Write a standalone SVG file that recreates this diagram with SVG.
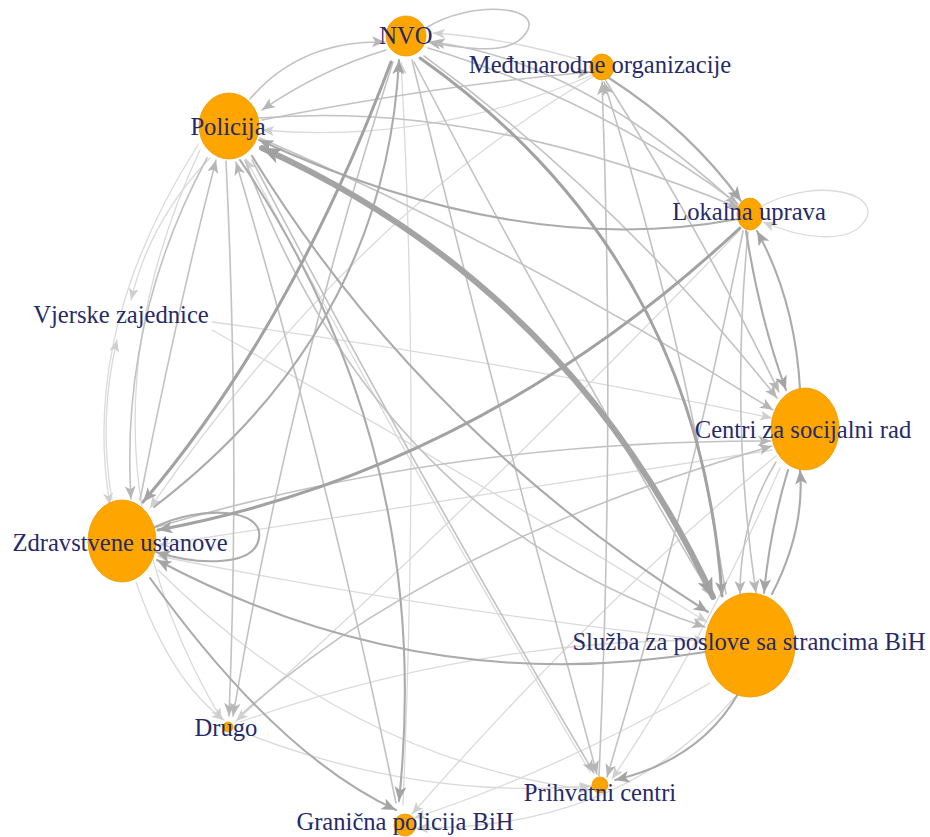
<svg xmlns="http://www.w3.org/2000/svg" width="930" height="837" viewBox="0 0 930 837">
<style>
.e{fill:none;stroke-linecap:round}
.l1{stroke:#dadada;stroke-width:1.3}
.l2{stroke:#c2c2c2;stroke-width:1.6}
.l3{stroke:#ababab;stroke-width:2.1}
.l4{stroke:#a2a2a2;stroke-width:3}
.l5{stroke:#a4a4a4;stroke-width:6}
.n{fill:#FFA500;stroke:#EE9A00;stroke-width:0.8}
.t{font-family:"Liberation Serif","Times New Roman",serif;font-size:24.6px;fill:#262a6a;text-anchor:middle}
</style>
<defs>
<marker id="m1" viewBox="0 0 12 10" refX="12" refY="5" markerWidth="12" markerHeight="10" markerUnits="userSpaceOnUse" orient="auto-start-reverse"><path d="M0,0 L12,5 L0,10 L3,5 z" fill="#cfcfcf"/></marker>
<marker id="m2" viewBox="0 0 12 10" refX="12" refY="5" markerWidth="13" markerHeight="11" markerUnits="userSpaceOnUse" orient="auto-start-reverse"><path d="M0,0 L12,5 L0,10 L3,5 z" fill="#b6b6b6"/></marker>
<marker id="m3" viewBox="0 0 12 10" refX="12" refY="5" markerWidth="15" markerHeight="12" markerUnits="userSpaceOnUse" orient="auto-start-reverse"><path d="M0,0 L12,5 L0,10 L3,5 z" fill="#a4a4a4"/></marker>
<marker id="m5" viewBox="0 0 12 10" refX="12" refY="5" markerWidth="20" markerHeight="16" markerUnits="userSpaceOnUse" orient="auto-start-reverse"><path d="M0,0 L12,5 L0,10 L3,5 z" fill="#a0a0a0"/></marker>
</defs>
<g id="edges" class="e">
<path class="l1" marker-end="url(#m1)" d="M 200 150 Q 60 450 222 720"/>
<path class="l1" marker-end="url(#m1)" d="M 198 145 Q 80 330 110 505"/>
<path class="l1" marker-end="url(#m1)" d="M 250 735 Q 420 800 591 786"/>
<path class="l1" marker-end="url(#m1)" d="M 158 570 Q 350 760 590 790"/>
<path class="l1" marker-end="url(#m1)" d="M 735 697 Q 620 830 416 828"/>
<path class="l1" marker-end="url(#m1)" d="M 594 76 Q 350 220 150 508"/>
<path class="l1" marker-end="url(#m1)" d="M 740 230 Q 480 500 236 721"/>
<path class="l1" marker-end="url(#m1)" d="M 592 75 Q 430 145 262 130"/>
<path class="l1" marker-end="url(#m1)" d="M 590 63 Q 510 38 433 33"/>
<path class="l1" marker-end="url(#m1)" d="M 762 206 C 820 175, 885 195, 864 222 C 848 245, 800 238, 763 222"/>
<path class="l1" marker-end="url(#m1)" d="M 210 158 Q 150 220 131 300"/>
<path class="l1" marker-end="url(#m1)" d="M 112 500 Q 98 420 117 340"/>
<path class="l1" marker-end="url(#m1)" d="M 780 468 Q 700 650 612 779"/>
<path class="l1" marker-end="url(#m1)" d="M 710 683 Q 560 770 414 818"/>
<path class="l1" marker-end="url(#m1)" d="M 776 456 Q 600 600 412 814"/>
<path class="l1" marker-end="url(#m1)" d="M 136 582 Q 170 680 224 720"/>
<path class="l1" marker-end="url(#m1)" d="M 212 322 Q 500 360 772 418"/>
<path class="l1" marker-end="url(#m1)" d="M 706 640 Q 430 610 158 556"/>
<path class="l1" marker-end="url(#m1)" d="M 772 450 Q 450 500 158 545"/>
<path class="l1" marker-end="url(#m1)" d="M 240 722 Q 470 640 706 640"/>
<path class="l1" marker-end="url(#m1)" d="M 212 330 Q 460 470 707 622"/>
<path class="l1" marker-end="url(#m1)" d="M 403 805 Q 420 400 401 62"/>
<path class="l1" marker-end="url(#m1)" d="M 590 772 Q 400 450 246 159"/>
<path class="l2" marker-end="url(#m2)" d="M 748 232 Q 730 420 756 593"/>
<path class="l2" marker-end="url(#m2)" d="M 743 231 Q 690 500 607 777"/>
<path class="l2" marker-end="url(#m2)" d="M 776 462 Q 740 520 740 594"/>
<path class="l2" marker-end="url(#m2)" d="M 606 81 Q 700 230 779 392"/>
<path class="l2" marker-end="url(#m2)" d="M 726 594 Q 680 320 604 82"/>
<path class="l2" marker-end="url(#m2)" d="M 599 776 Q 615 420 602 82"/>
<path class="l2" marker-end="url(#m2)" d="M 428 48 Q 600 100 738 204"/>
<path class="l2" marker-end="url(#m2)" d="M 424 56 Q 620 200 777 398"/>
<path class="l2" marker-end="url(#m2)" d="M 262 120 Q 440 85 590 72"/>
<path class="l2" marker-end="url(#m2)" d="M 738 206 Q 580 60 432 42"/>
<path class="l2" marker-end="url(#m2)" d="M 259 118 Q 480 100 739 208"/>
<path class="l2" marker-end="url(#m2)" d="M 250 99 Q 300 40 385 42"/>
<path class="l2" marker-end="url(#m2)" d="M 386 50 Q 320 70 262 110"/>
<path class="l2" marker-end="url(#m2)" d="M 426 28 C 470 0, 545 5, 526 33 C 512 55, 470 50, 428 42"/>
<path class="l2" marker-end="url(#m2)" d="M 207 158 Q 120 320 131 499"/>
<path class="l2" marker-end="url(#m2)" d="M 140 500 Q 175 320 216 160"/>
<path class="l2" marker-end="url(#m2)" d="M 226 161 Q 240 450 229 716"/>
<path class="l2" marker-end="url(#m2)" d="M 393 62 Q 290 380 233 716"/>
<path class="l2" marker-end="url(#m2)" d="M 243 713 Q 430 545 772 446"/>
<path class="l2" marker-end="url(#m2)" d="M 252 160 Q 420 480 594 773"/>
<path class="l2" marker-end="url(#m2)" d="M 412 60 Q 500 420 597 774"/>
<path class="l2" marker-end="url(#m2)" d="M 245 160 Q 380 520 705 627"/>
<path class="l2" marker-end="url(#m2)" d="M 157 527 Q 450 440 771 441"/>
<path class="l2" marker-end="url(#m2)" d="M 260 138 Q 520 250 773 410"/>
<path class="l2" marker-end="url(#m2)" d="M 414 62 Q 560 340 712 597"/>
<path class="l2" marker-end="url(#m2)" d="M 396 803 Q 330 480 236 162"/>
<path class="l3" marker-end="url(#m3)" d="M 240 160 Q 436 451 399 801"/>
<path class="l3" marker-end="url(#m3)" d="M 705 652 Q 420 700 157 560"/>
<path class="l3" marker-end="url(#m3)" d="M 746 231 Q 760 320 786 390"/>
<path class="l3" marker-end="url(#m3)" d="M 800 389 Q 795 300 757 231"/>
<path class="l3" marker-end="url(#m3)" d="M 788 470 Q 770 530 764 593"/>
<path class="l3" marker-end="url(#m3)" d="M 772 594 Q 805 530 800 470"/>
<path class="l3" marker-end="url(#m3)" d="M 609 78 Q 690 130 741 201"/>
<path class="l3" marker-end="url(#m3)" d="M 738 219 Q 520 260 259 140"/>
<path class="l3" marker-end="url(#m3)" d="M 155 527 C 200 505, 264 508, 259 538 C 255 566, 200 566, 156 552"/>
<path class="l3" marker-end="url(#m3)" d="M 150 578 Q 276 754 396 810"/>
<path class="l3" marker-end="url(#m3)" d="M 738 694 Q 700 760 615 780"/>
<path class="l3" marker-end="url(#m3)" d="M 252 156 Q 420 430 708 612"/>
<path class="l3" marker-end="url(#m3)" d="M 154 507 Q 385 330 399 60"/>
<path class="l4" marker-end="url(#m3)" d="M 391 62 Q 290 330 143 502"/>
<path class="l4" marker-end="url(#m3)" d="M 740 228 Q 480 470 158 530"/>
<path class="l4" marker-end="url(#m3)" d="M 420 58 Q 699 255 722 596"/>
<path class="l5" marker-end="url(#m5)" marker-start="url(#m5)" d="M 713 597 Q 570 288 262 148"/>
</g>
<g id="node-nvo"><circle class="n" cx="406" cy="36" r="20"/><text class="t" x="406" y="44">NVO</text></g>
<g id="node-medunarodne"><ellipse class="n" cx="602" cy="67" rx="12" ry="13"/><text class="t" x="600" y="73">Međunarodne organizacije</text></g>
<g id="node-policija"><ellipse class="n" cx="229" cy="126" rx="30" ry="33"/><text class="t" x="228" y="135">Policija</text></g>
<g id="node-lokalna"><ellipse class="n" cx="750" cy="214" rx="13" ry="16"/><text class="t" x="749" y="220">Lokalna uprava</text></g>
<g id="node-vjerske"><text class="t" x="121" y="323">Vjerske zajednice</text></g>
<g id="node-centri"><ellipse class="n" cx="805" cy="429" rx="34" ry="41"/><text class="t" x="803" y="438">Centri za socijalni rad</text></g>
<g id="node-zdravstvene"><ellipse class="n" cx="122" cy="541" rx="34" ry="41"/><text class="t" x="120" y="551">Zdravstvene ustanove</text></g>
<g id="node-sluzba"><ellipse class="n" cx="750" cy="645" rx="45" ry="52"/><text class="t" x="749" y="650">Služba za poslove sa strancima BiH</text></g>
<g id="node-drugo"><circle class="n" cx="228" cy="727" r="5"/><text class="t" x="226" y="736">Drugo</text></g>
<g id="node-prihvatni"><circle class="n" cx="600" cy="785" r="8"/><text class="t" x="600" y="801">Prihvatni centri</text></g>
<g id="node-granicna"><circle class="n" cx="405" cy="825" r="11"/><text class="t" x="405" y="830">Granična policija BiH</text></g>
</svg>
